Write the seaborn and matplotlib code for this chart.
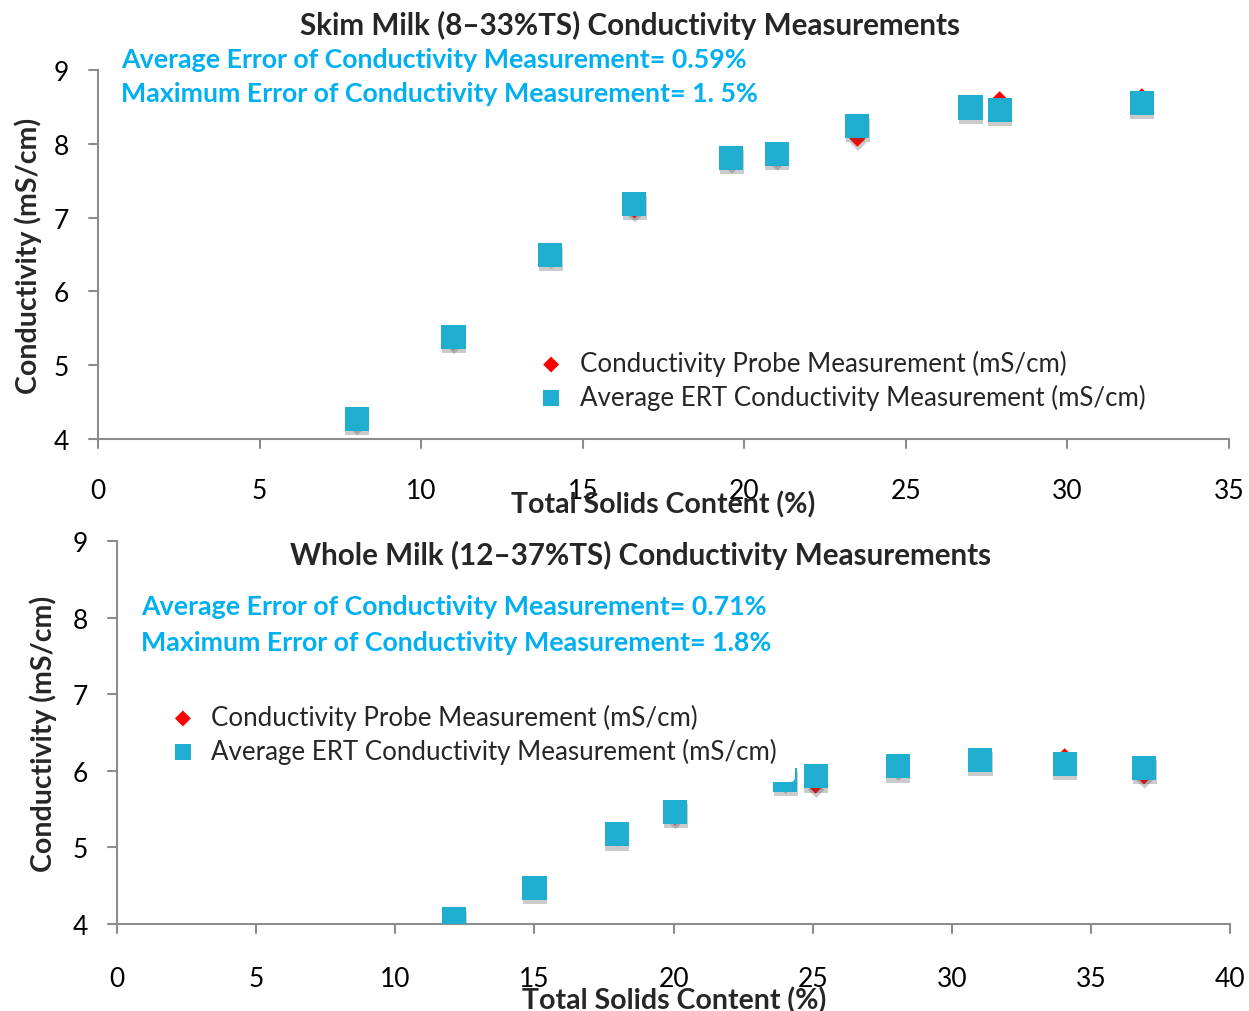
import matplotlib
matplotlib.use("Agg")
import matplotlib.pyplot as plt
import matplotlib.patheffects as pe
import seaborn as sns
import pandas as pd

# =========================
# DATA
# =========================
skim_ts = [8.0, 11.0, 14.0, 16.6, 19.6, 21.0, 23.5, 27.0, 27.9, 32.3]
skim_probe = [4.22, 5.32, 6.47, 7.10, 7.76, 7.80, 8.07, 8.48, 8.60, 8.64]
skim_ert = [4.28, 5.38, 6.49, 7.18, 7.81, 7.86, 8.24, 8.49, 8.46, 8.55]

whole_ts = [12.1, 15.0, 17.95, 20.05, 24.0, 25.1, 28.05, 31.0, 34.05, 36.9]
whole_probe = [4.09, 4.50, 5.17, 5.40, 5.86, 5.81, 6.03, 6.15, 6.19, 5.93]
whole_ert = [4.07, 4.47, 5.17, 5.46, 5.88, 5.93, 6.06, 6.14, 6.09, 6.04]

probe_label = "Conductivity Probe Measurement (mS/cm)"
ert_label = "Average ERT Conductivity Measurement (mS/cm)"

sns.set_theme(style="white")
plt.rcParams["font.family"] = ["Lato", "DejaVu Sans"]

CYAN = "#00B0F0"
SQUARE = "#1FAECF"
GREY = "#8C8C8C"

fig = plt.figure(figsize=(12.49, 10.12), dpi=100)
ax1 = fig.add_axes([0.0785, 0.565, 0.9055, 0.365])
ax2 = fig.add_axes([0.0937, 0.086, 0.8913, 0.378])

shadow = [pe.SimplePatchShadow(offset=(0.5, -3), shadow_rgbFace="#555555", alpha=0.3), pe.Normal()]


def draw(ax, ts, probe, ert, xmax, title, avg_txt, max_txt, leg_anchor, leg_pad,
         title_y, txt_x, txt_y, xpad, xlabpad, ylabpad):
    df = pd.DataFrame({"ts": ts, "probe": probe, "ert": ert})
    sns.scatterplot(data=df, x="ts", y="probe", ax=ax, marker="D", s=70,
                    color="red", edgecolor="none", label=probe_label, zorder=3)
    sns.scatterplot(data=df, x="ts", y="ert", ax=ax, marker="s", s=300,
                    color=SQUARE, edgecolor="none", label=ert_label, zorder=4)
    for coll in ax.collections:
        coll.set_path_effects(shadow)
    ax.set_xlim(0, xmax)
    ax.set_ylim(4, 9)
    ax.set_xticks(range(0, xmax + 1, 5))
    ax.set_yticks(range(4, 10))
    for s in ["top", "right"]:
        ax.spines[s].set_visible(False)
    for s in ["left", "bottom"]:
        ax.spines[s].set_color(GREY)
        ax.spines[s].set_linewidth(1.5)
    ax.tick_params(axis="x", length=0, pad=xpad, labelsize=19, colors="black")
    ax.tick_params(axis="y", length=0, pad=21, labelsize=19, colors="black")
    # short tick marks crossing the axes, drawn in grey
    for x in range(0, xmax + 1, 5):
        ax.plot([x, x], [4, 4 - 0.12], color=GREY, lw=1.5, clip_on=False)
    for y in range(4, 10):
        ax.plot([0, -xmax * 0.008], [y, y], color=GREY, lw=1.5, clip_on=False)
    ax.set_xlabel("Total Solids Content (%)", fontsize=20.5, fontweight="bold", labelpad=xlabpad)
    ax.set_ylabel("Conductivity (mS/cm)", fontsize=20.5, fontweight="bold", labelpad=ylabpad)
    ax.text(0.47, title_y, title, transform=ax.transAxes, ha="center", va="center",
            fontsize=21.3, fontweight="bold")
    ax.text(txt_x, txt_y, avg_txt, transform=ax.transAxes, ha="left", va="center",
            fontsize=19.3, fontweight="bold", color=CYAN)
    ax.text(txt_x, txt_y - 0.092, max_txt, transform=ax.transAxes, ha="left", va="center",
            fontsize=19.3, fontweight="bold", color=CYAN)
    leg = ax.legend(loc="upper left", bbox_to_anchor=leg_anchor, frameon=True, fontsize=18.6,
                    handlelength=1.2, handletextpad=0.5, borderpad=leg_pad,
                    borderaxespad=0, labelspacing=0.3)
    leg.get_frame().set_facecolor("white")
    leg.get_frame().set_edgecolor("none")
    leg.get_frame().set_alpha(1)
    leg.set_zorder(5)
    handles = leg.legend_handles
    handles[0].set_sizes([66])
    handles[1].set_sizes([133])
    for h in handles:
        h.set_path_effects([])


draw(ax1, skim_ts, skim_probe, skim_ert, 35,
     "Skim Milk (8\u201333%TS) Conductivity Measurements",
     "Average Error of Conductivity Measurement= 0.59%",
     "Maximum Error of Conductivity Measurement= 1. 5%",
     (0.3846, 0.248), 0.1, 1.123, 0.02, 1.03, 28, -9, 8)

draw(ax2, whole_ts, whole_probe, whole_ert, 40,
     "Whole Milk (12\u201337%TS) Conductivity Measurements",
     "Average Error of Conductivity Measurement= 0.71%",
     "Maximum Error of Conductivity Measurement= 1.8%",
     (0.029, 0.622), 0.7, 0.965, 0.0215, 0.83, 30.5, -3.6, 11)

fig.savefig("out.png", dpi=100, facecolor="white")
